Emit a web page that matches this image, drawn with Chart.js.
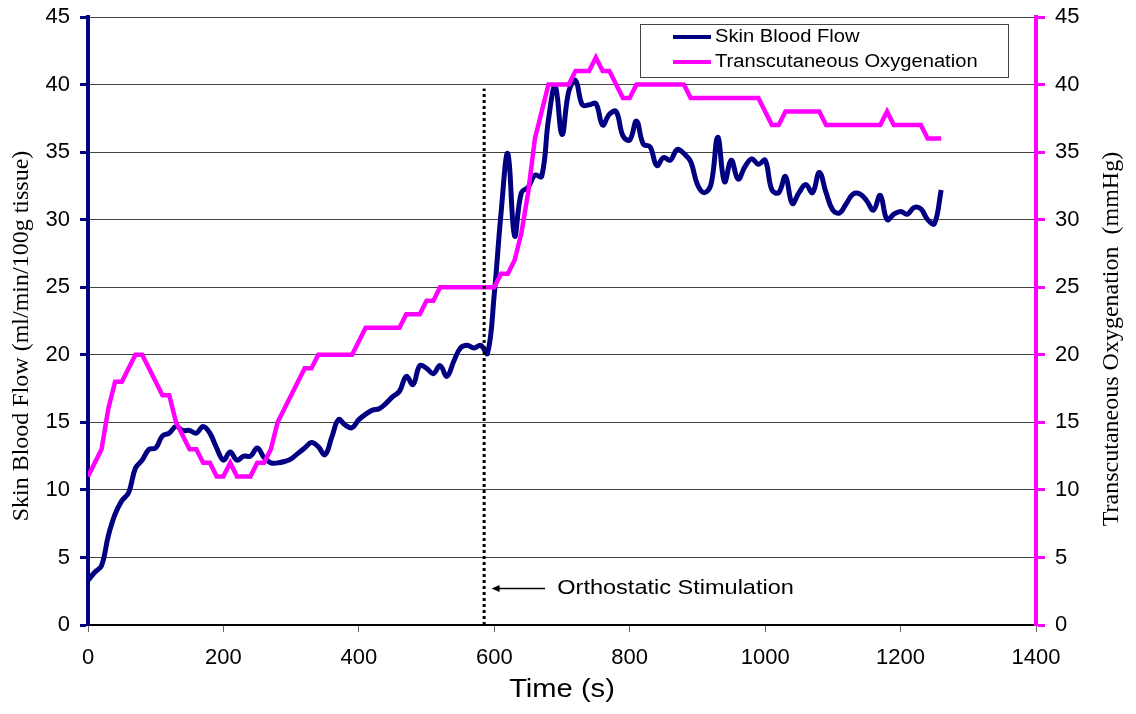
<!DOCTYPE html>
<html lang="en">
<head>
<meta charset="UTF-8">
<title>Skin Blood Flow and Transcutaneous Oxygenation</title>
<script src="https://cdn.jsdelivr.net/npm/chart.js@4"></script>
<style>
  body { margin: 0; background: white; }
  canvas { display: block; }
</style>
</head>
<body>
<canvas id="chart" width="1136" height="714"></canvas>
<script>
// skin blood flow (ml/min/100g tissue), sampled every 10 s
const flowTime = [
  0, 10, 20, 30, 40, 50, 60, 70, 80, 90, 100, 110, 120, 130, 140, 150, 160, 170, 180, 190,
  200, 210, 220, 230, 240, 250, 260, 270, 280, 290, 300, 310, 320, 330, 340, 350, 360, 370, 380, 390,
  400, 410, 420, 430, 440, 450, 460, 470, 480, 490, 500, 510, 520, 530, 540, 550, 560, 570, 580, 590,
  600, 610, 620, 630, 640, 650, 660, 670, 680, 690, 700, 710, 720, 730, 740, 750, 760, 770, 780, 790,
  800, 810, 820, 830, 840, 850, 860, 870, 880, 890, 900, 910, 920, 930, 940, 950, 960, 970, 980, 990,
  1000, 1010, 1020, 1030, 1040, 1050, 1060, 1070, 1080, 1090, 1100, 1110, 1120, 1130, 1140, 1150, 1160, 1170, 1180, 1190,
  1200, 1210, 1220, 1230, 1240, 1250, 1260
];
const flowValue = [
  3.3, 3.9, 4.4, 6.6, 8.2, 9.2, 9.8, 11.6, 12.2, 13.0, 13.1, 14.0, 14.2, 14.7, 14.4, 14.4, 14.2, 14.7, 14.2, 13.1,
  12.2, 12.8, 12.2, 12.5, 12.5, 13.1, 12.4, 12.0, 12.0, 12.1, 12.3, 12.7, 13.1, 13.5, 13.2, 12.6, 13.9, 15.2, 14.8, 14.6,
  15.2, 15.6, 15.9, 16.0, 16.4, 16.9, 17.3, 18.4, 17.8, 19.2, 19.0, 18.6, 19.2, 18.4, 19.5, 20.5, 20.7, 20.5, 20.7, 20.1,
  24.5, 30.5, 34.9, 28.8, 32.0, 32.4, 33.3, 33.2, 37.4, 39.9, 36.3, 39.5, 40.3, 38.5, 38.5, 38.6, 37.0, 37.8, 38.0, 36.2,
  35.9, 37.3, 35.6, 35.4, 34.0, 34.6, 34.4, 35.2, 34.9, 34.3, 32.6, 32.0, 32.6, 36.1, 32.8, 34.4, 33.0, 33.9, 34.5, 34.1,
  34.4, 32.2, 32.0, 33.2, 31.2, 32.0, 32.6, 32.0, 33.5, 32.0, 30.7, 30.5, 31.2, 31.9, 31.9, 31.4, 30.7, 31.8, 30.0, 30.4,
  30.6, 30.4, 30.9, 30.8, 30.0, 29.7, 32.2
];

// transcutaneous oxygenation (mmHg), only the samples where the reading changes
const oxyTime = [
  0, 20, 30, 40, 50, 70, 80, 110, 120, 130, 150, 160, 170, 180, 190, 200, 210, 220, 240, 250,
  260, 270, 280, 290, 300, 310, 320, 330, 340, 390, 410, 460, 470, 490, 500, 510, 520, 600, 610, 620,
  630, 640, 650, 660, 670, 680, 710, 720, 740, 750, 760, 770, 790, 800, 810, 880, 890, 990, 1010, 1020,
  1030, 1080, 1090, 1170, 1180, 1190, 1230, 1240, 1260
];
const oxyValue = [
  11, 13, 16, 18, 18, 20, 20, 17, 17, 15, 13, 13, 12, 12, 11, 11, 12, 11, 11, 12,
  12, 13, 15, 16, 17, 18, 19, 19, 20, 20, 22, 22, 23, 23, 24, 24, 25, 25, 26, 26,
  27, 29, 32, 36, 38, 40, 40, 41, 41, 42, 41, 41, 39, 39, 40, 40, 39, 39, 37, 37,
  38, 38, 37, 37, 38, 37, 37, 36, 36
];

const seriesNames = ['Skin Blood Flow', 'Transcutaneous Oxygenation'];
const seriesColors = ['#000080', '#ff00ff'];

// axis ranges
const timeMin = 0, timeMax = 1400, timeStep = 200;
const valueMin = 0, valueMax = 45, valueStep = 5;

// start of the orthostatic stimulation
const stimTime = 585;
const stimTop = 39.7;
const stimLabel = 'Orthostatic Stimulation';
const arrowLevel = 2.7;
const arrowFrom = 675;
const arrowTo = 596;
const labelTime = 693;

const SANS = '"Liberation Sans", Arial, sans-serif';
const SERIF = '"Liberation Serif", "Times New Roman", serif';
const WIDEN = 1.12; // text in this chart is set slightly wide

function toPoints(xs, ys) {
  return xs.map((x, i) => ({ x: x, y: ys[i] }));
}

function wideText(ctx, text, x, y) {
  ctx.save();
  ctx.translate(x, y);
  ctx.scale(WIDEN, 1);
  ctx.fillText(text, 0, 0);
  ctx.restore();
}

// fixed axis sizes, no extra room for half labels at the ends
function fixVertical(width) {
  return (s) => {
    s.width = width;
    s.paddingTop = 0;
    s.paddingBottom = 0;
  };
}

// draws the legend box, the stimulation marker and the axis titles
const decorations = {
  id: 'decorations',
  afterDraw(chart) {
    const ctx = chart.ctx;
    const x = chart.scales.x;
    const y = chart.scales.y;
    const area = chart.chartArea;

    ctx.save();

    // dotted marker line
    ctx.strokeStyle = '#000';
    ctx.lineWidth = 3;
    ctx.setLineDash([3, 3]);
    ctx.beginPath();
    ctx.moveTo(x.getPixelForValue(stimTime), y.getPixelForValue(0));
    ctx.lineTo(x.getPixelForValue(stimTime), y.getPixelForValue(stimTop));
    ctx.stroke();
    ctx.setLineDash([]);

    // arrow pointing at the marker
    const ay = y.getPixelForValue(arrowLevel);
    const ax1 = x.getPixelForValue(arrowFrom);
    const ax2 = x.getPixelForValue(arrowTo);
    ctx.lineWidth = 1.5;
    ctx.beginPath();
    ctx.moveTo(ax1, ay);
    ctx.lineTo(ax2 + 4, ay);
    ctx.stroke();
    ctx.fillStyle = '#000';
    ctx.beginPath();
    ctx.moveTo(ax2, ay);
    ctx.lineTo(ax2 + 8, ay - 3.5);
    ctx.lineTo(ax2 + 8, ay + 3.5);
    ctx.closePath();
    ctx.fill();

    ctx.font = '21px ' + SANS;
    ctx.textAlign = 'left';
    ctx.textBaseline = 'middle';
    wideText(ctx, stimLabel, x.getPixelForValue(labelTime), ay);

    // legend
    ctx.fillStyle = '#fff';
    ctx.fillRect(640, 24, 368, 53);
    ctx.strokeStyle = '#444';
    ctx.lineWidth = 1;
    ctx.strokeRect(640.5, 24.5, 368, 53);
    ctx.font = '18px ' + SANS;
    seriesNames.forEach((name, i) => {
      const ly = 37 + i * 25;
      ctx.strokeStyle = seriesColors[i];
      ctx.lineWidth = 4;
      ctx.beginPath();
      ctx.moveTo(673, ly);
      ctx.lineTo(711, ly);
      ctx.stroke();
      ctx.fillStyle = '#000';
      wideText(ctx, name, 715, ly);
    });

    // axis titles
    ctx.fillStyle = '#000';
    ctx.textAlign = 'center';
    ctx.font = '26px ' + SANS;
    ctx.save();
    ctx.translate((area.left + area.right) / 2, 690);
    ctx.scale(WIDEN, 1);
    ctx.fillText('Time (s)', 0, 0);
    ctx.restore();

    ctx.font = '24px ' + SERIF;
    ctx.save();
    ctx.translate(22, 336);
    ctx.rotate(-Math.PI / 2);
    ctx.fillText('Skin Blood Flow (ml/min/100g tissue)', 0, 0);
    ctx.restore();

    ctx.save();
    ctx.translate(1112, 339);
    ctx.rotate(-Math.PI / 2);
    ctx.fillText('Transcutaneous Oxygenation  (mmHg)', 0, 0);
    ctx.restore();

    ctx.restore();
  }
};

const tickFont = { family: SANS, size: 22 };

new Chart(document.getElementById('chart'), {
  type: 'line',
  data: {
    datasets: [
      {
        label: seriesNames[0],
        data: toPoints(flowTime, flowValue),
        borderColor: seriesColors[0],
        borderWidth: 5,
        tension: 0.4,
        pointRadius: 0,
        yAxisID: 'y',
        order: 1
      },
      {
        label: seriesNames[1],
        data: toPoints(oxyTime, oxyValue),
        borderColor: seriesColors[1],
        borderWidth: 4.5,
        tension: 0,
        pointRadius: 0,
        yAxisID: 'y1',
        order: 0
      }
    ]
  },
  options: {
    responsive: false,
    animation: false,
    layout: { padding: { top: 17, left: 0, right: 0, bottom: 0 } },
    plugins: {
      legend: { display: false },
      tooltip: { enabled: false }
    },
    scales: {
      x: {
        type: 'linear',
        min: timeMin,
        max: timeMax,
        afterFit: (s) => { s.height = 89; s.paddingLeft = 0; s.paddingRight = 0; },
        border: { color: '#000', width: 2 },
        grid: { drawOnChartArea: false, tickLength: 7, tickColor: '#666', tickWidth: 1 },
        ticks: {
          stepSize: timeStep, padding: 13, color: '#000', font: tickFont,
          callback: (v) => String(v)
        }
      },
      y: {
        position: 'left',
        min: valueMin,
        max: valueMax,
        afterFit: fixVertical(88),
        border: { color: seriesColors[0], width: 4 },
        grid: { color: '#444', lineWidth: 1, tickLength: 8, tickColor: seriesColors[0], tickWidth: 3 },
        ticks: { stepSize: valueStep, padding: 10, color: '#000', font: tickFont }
      },
      y1: {
        position: 'right',
        min: valueMin,
        max: valueMax,
        afterFit: fixVertical(100),
        border: { color: seriesColors[1], width: 4 },
        grid: { drawOnChartArea: false, tickLength: 9, tickColor: seriesColors[1], tickWidth: 3 },
        ticks: { stepSize: valueStep, padding: 10, color: '#000', font: tickFont }
      }
    }
  },
  plugins: [decorations]
});
</script>
</body>
</html>
